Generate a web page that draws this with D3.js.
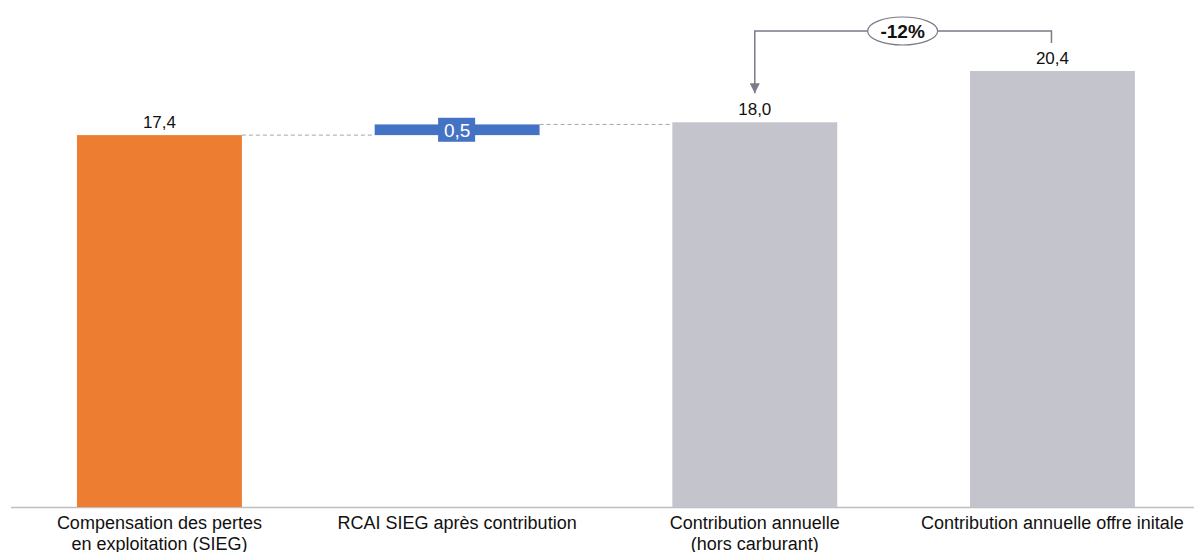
<!DOCTYPE html>
<html><head><meta charset="utf-8">
<script src="https://cdn.jsdelivr.net/npm/d3@7"></script>
<style>body{margin:0;background:#fff}svg{display:block}</style>
</head><body>
<svg id="c" width="1194" height="552"></svg>
<script>
const categories = ["Compensation des pertes\nen exploitation (SIEG)", "RCAI SIEG après contribution", "Contribution annuelle\n(hors carburant)", "Contribution annuelle offre initale"];
const starts = [0, 17.4, 0, 0];
const ends = [17.4, 17.9, 18.0, 20.4];
const labels = ["17,4", "0,5", "18,0", "20,4"];
const colors = ["#ED7D31", "#4472C4", "#C4C4CC", "#C4C4CC"];
const deltaLabel = "-12%";

const svg = d3.select("#c");
const font = "'Liberation Sans Narrow','Liberation Sans',Arial,sans-serif";
const baseY = 507;
const x = d3.scaleBand().domain(categories).range([10.6, 1201.3]).paddingInner(0.446).paddingOuter(0.223);
const y = d3.scaleLinear().domain([0, 20.4]).range([baseY, 71]);

// axis line
svg.append("line").attr("x1", 11).attr("x2", 1194).attr("y1", baseY + 0.5).attr("y2", baseY + 0.5)
  .attr("stroke", "#bfbfbf").attr("stroke-width", 1.5);

// connectors
const conn = [[0, ends[0]], [1, ends[1]]];
conn.forEach(([i, v]) => {
  svg.append("line")
    .attr("x1", x(categories[i]) + x.bandwidth()).attr("x2", x(categories[i + 1]))
    .attr("y1", y(v)).attr("y2", y(v))
    .attr("stroke", "#a6a6a6").attr("stroke-dasharray", "4,3").attr("stroke-width", 1);
});

// bars
categories.forEach((c, i) => {
  svg.append("rect").attr("x", x(c)).attr("width", x.bandwidth())
    .attr("y", y(Math.max(starts[i], ends[i]))).attr("height", Math.abs(y(starts[i]) - y(ends[i])))
    .attr("fill", colors[i]);
});

// labels
categories.forEach((c, i) => {
  const cx = x(c) + x.bandwidth() / 2;
  if (i === 1) {
    const my = (y(starts[i]) + y(ends[i])) / 2;
    svg.append("rect").attr("x", cx - 19).attr("y", my - 12).attr("width", 37).attr("height", 24).attr("fill", "#4472C4");
    svg.append("text").attr("x", cx).attr("y", my + 7).attr("text-anchor", "middle")
      .attr("font-family", font).attr("font-size", 19).attr("fill", "#fff").text(labels[i]);
  } else {
    svg.append("text").attr("x", cx).attr("y", y(ends[i]) - 7).attr("text-anchor", "middle")
      .attr("font-family", font).attr("font-size", 17).attr("fill", "#111").text(labels[i]);
  }
});

// category labels
categories.forEach((c, i) => {
  const cx = x(c) + x.bandwidth() / 2;
  const t = svg.append("text").attr("text-anchor", "middle").attr("font-family", font)
    .attr("font-size", 18).attr("fill", "#111");
  c.split("\n").forEach((line, k) => {
    t.append("tspan").attr("x", cx).attr("y", 529 + k * 21).text(line);
  });
});

// delta annotation
const xa = x(categories[2]) + x.bandwidth() / 2;
const xb = x(categories[3]) + x.bandwidth() / 2 - 1;
const ya = 31;
svg.append("defs").append("marker").attr("id", "arr").attr("viewBox", "0 0 10 10")
  .attr("refX", 10).attr("refY", 5).attr("markerWidth", 10).attr("markerHeight", 10)
  .attr("markerUnits", "userSpaceOnUse").attr("orient", "auto")
  .append("path").attr("d", "M0,0L10,5L0,10z").attr("fill", "#7a7a88");
svg.append("path").attr("d", `M${xb},${ya + 12}V${ya}H${xa}V${y(ends[2]) - 29}`)
  .attr("fill", "none").attr("stroke", "#7a7a88").attr("stroke-width", 1.5).attr("marker-end", "url(#arr)");
const ex = (xa + xb) / 2 - 0.5;
svg.append("ellipse").attr("cx", ex).attr("cy", ya).attr("rx", 35).attr("ry", 14)
  .attr("fill", "#fff").attr("stroke", "#7a7a88").attr("stroke-width", 1.2);
svg.append("text").attr("x", ex).attr("y", ya + 7).attr("text-anchor", "middle")
  .attr("font-family", font).attr("font-size", 19).attr("font-weight", "bold").attr("fill", "#111").text(deltaLabel);
</script>
</body></html>
